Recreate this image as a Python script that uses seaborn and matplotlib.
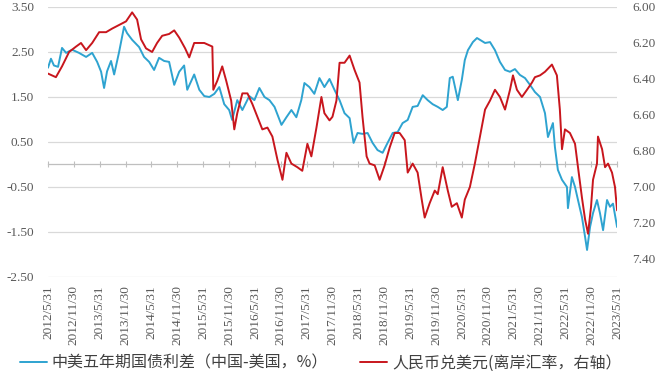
import numpy as np
import pandas as pd
import matplotlib.pyplot as plt
import seaborn as sns

sns.set_style('white')
plt.rcParams['font.family'] = ['Liberation Serif', 'Noto Sans CJK SC']

# China-US 5y government bond spread (%, left axis)
spread_dates = [
    '2012-05-31', '2012-06-21', '2012-07-12', '2012-08-10', '2012-09-07', '2012-10-06',
    '2012-11-17', '2013-01-05', '2013-02-24', '2013-04-08', '2013-05-13', '2013-06-10',
    '2013-07-01', '2013-07-22', '2013-08-19', '2013-09-10', '2013-10-15', '2013-11-19',
    '2013-12-10', '2014-01-15', '2014-03-05', '2014-04-09', '2014-05-15', '2014-06-19',
    '2014-07-24', '2014-08-29', '2014-10-03', '2014-11-08', '2014-12-13', '2015-01-17',
    '2015-02-08', '2015-03-29', '2015-05-04', '2015-06-08', '2015-07-14', '2015-08-18',
    '2015-09-22', '2015-10-27', '2015-12-01', '2015-12-22', '2016-01-27', '2016-03-03',
    '2016-04-21', '2016-05-27', '2016-07-01', '2016-08-06', '2016-09-10', '2016-10-16',
    '2016-12-04', '2017-01-08', '2017-02-12', '2017-03-19', '2017-04-23', '2017-05-15',
    '2017-06-19', '2017-07-24', '2017-08-29', '2017-10-03', '2017-11-08', '2017-12-13',
    '2018-01-18', '2018-02-22', '2018-03-30', '2018-04-27', '2018-05-25', '2018-06-29',
    '2018-08-04', '2018-09-08', '2018-10-13', '2018-11-18', '2018-12-23', '2019-01-28',
    '2019-03-04', '2019-04-08', '2019-05-14', '2019-06-18', '2019-07-23', '2019-08-28',
    '2019-10-02', '2019-11-06', '2019-12-12', '2020-01-16', '2020-02-14', '2020-03-06',
    '2020-03-27', '2020-05-02', '2020-05-30', '2020-06-20', '2020-07-12', '2020-08-16',
    '2020-09-14', '2020-10-05', '2020-11-10', '2020-12-15', '2021-01-19', '2021-02-23',
    '2021-03-31', '2021-05-05', '2021-06-09', '2021-07-14', '2021-08-19', '2021-09-23',
    '2021-10-28', '2021-12-03', '2022-01-07', '2022-01-28', '2022-03-04', '2022-03-18',
    '2022-04-08', '2022-05-07', '2022-06-11', '2022-06-18', '2022-07-16', '2022-08-07',
    '2022-08-28', '2022-09-25', '2022-10-17', '2022-10-31', '2022-11-21', '2022-12-12',
    '2023-01-09', '2023-01-30', '2023-02-21', '2023-03-21', '2023-04-11', '2023-05-02',
    '2023-05-31',
]
spread_vals = [
    2.15, 2.35, 2.20, 2.17, 2.59, 2.48,
    2.55, 2.48, 2.39, 2.48, 2.28, 2.06,
    1.70, 2.07, 2.30, 2.00, 2.50, 3.06,
    2.92, 2.77, 2.61, 2.39, 2.28, 2.10,
    2.37, 2.30, 2.28, 1.77, 2.06, 2.20,
    1.66, 2.00, 1.66, 1.52, 1.50, 1.57,
    1.72, 1.34, 1.21, 0.99, 1.43, 1.21,
    1.52, 1.43, 1.70, 1.50, 1.43, 1.28,
    0.88, 1.05, 1.21, 1.05, 1.43, 1.81,
    1.72, 1.57, 1.92, 1.72, 1.90, 1.66,
    1.43, 1.14, 1.03, 0.48, 0.70, 0.68,
    0.70, 0.48, 0.32, 0.26, 0.48, 0.70,
    0.72, 0.92, 0.99, 1.28, 1.30, 1.54,
    1.43, 1.34, 1.28, 1.21, 1.28, 1.92,
    1.95, 1.43, 1.88, 2.32, 2.54, 2.72,
    2.81, 2.77, 2.70, 2.72, 2.54, 2.28,
    2.10, 2.06, 2.12, 1.99, 1.92, 1.77,
    1.61, 1.50, 1.14, 0.61, 0.92, 0.39,
    -0.12, -0.34, -0.50, -0.97, -0.28, -0.50,
    -0.79, -1.17, -1.61, -1.90, -1.39, -1.08,
    -0.79, -1.08, -1.46, -0.79, -0.94, -0.87,
    -1.39,
]

# USD/CNH offshore rate (right axis, inverted)
rate_dates = [
    '2012-05-31', '2012-06-28', '2012-07-26', '2012-09-07', '2012-10-27', '2012-12-15',
    '2013-01-19', '2013-02-24', '2013-04-08', '2013-05-27', '2013-07-15', '2013-08-27',
    '2013-10-15', '2013-12-03', '2014-01-15', '2014-02-19', '2014-03-19', '2014-04-23',
    '2014-06-05', '2014-07-10', '2014-08-15', '2014-10-03', '2014-11-08', '2014-12-13',
    '2015-01-24', '2015-02-22', '2015-03-29', '2015-06-08', '2015-08-04', '2015-08-11',
    '2015-09-08', '2015-10-13', '2015-11-10', '2015-12-15', '2016-01-06', '2016-01-27',
    '2016-03-03', '2016-04-08', '2016-05-13', '2016-06-17', '2016-07-22', '2016-08-27',
    '2016-10-01', '2016-11-06', '2016-12-11', '2017-01-08', '2017-02-12', '2017-03-26',
    '2017-04-30', '2017-06-05', '2017-07-03', '2017-08-08', '2017-09-12', '2017-10-03',
    '2017-11-08', '2017-11-29', '2017-12-27', '2018-01-18', '2018-02-22', '2018-03-30',
    '2018-05-04', '2018-06-08', '2018-06-29', '2018-07-28', '2018-08-18', '2018-09-23',
    '2018-10-28', '2018-12-02', '2019-01-07', '2019-02-11', '2019-03-18', '2019-04-23',
    '2019-05-14', '2019-06-18', '2019-07-23', '2019-08-21', '2019-09-11', '2019-10-16',
    '2019-11-21', '2019-12-12', '2020-01-16', '2020-02-21', '2020-03-20', '2020-04-25',
    '2020-05-30', '2020-06-20', '2020-07-26', '2020-08-30', '2020-10-05', '2020-11-10',
    '2020-12-15', '2021-01-19', '2021-02-23', '2021-03-31', '2021-05-05', '2021-05-26',
    '2021-06-23', '2021-07-28', '2021-09-02', '2021-10-07', '2021-10-28', '2021-12-03',
    '2022-01-07', '2022-02-25', '2022-04-01', '2022-04-22', '2022-05-07', '2022-05-28',
    '2022-07-02', '2022-08-07', '2022-08-28', '2022-09-25', '2022-10-17', '2022-11-07',
    '2022-11-28', '2022-12-12', '2023-01-09', '2023-01-16', '2023-02-14', '2023-03-07',
    '2023-03-28', '2023-04-25', '2023-05-16', '2023-05-31',
]
rate_vals = [
    6.37, 6.38, 6.39, 6.33, 6.25, 6.22,
    6.20, 6.24, 6.20, 6.14, 6.14, 6.12,
    6.10, 6.08, 6.03, 6.07, 6.18, 6.23,
    6.25, 6.20, 6.16, 6.15, 6.13, 6.17,
    6.23, 6.28, 6.20, 6.20, 6.22, 6.46,
    6.41, 6.33, 6.41, 6.52, 6.68, 6.59,
    6.48, 6.48, 6.54, 6.61, 6.68, 6.67,
    6.72, 6.85, 6.96, 6.81, 6.87, 6.89,
    6.91, 6.76, 6.83, 6.67, 6.50, 6.59,
    6.63, 6.61, 6.52, 6.31, 6.31, 6.27,
    6.35, 6.42, 6.61, 6.83, 6.87, 6.88,
    6.96, 6.88, 6.78, 6.70, 6.70, 6.74,
    6.92, 6.87, 6.92, 7.07, 7.17, 7.09,
    7.02, 7.04, 6.89, 7.02, 7.11, 7.09,
    7.17, 7.07, 7.00, 6.87, 6.72, 6.57,
    6.52, 6.46, 6.50, 6.57, 6.46, 6.38,
    6.46, 6.50, 6.46, 6.42, 6.39, 6.38,
    6.36, 6.32, 6.38, 6.57, 6.79, 6.68,
    6.70, 6.76, 6.89, 7.06, 7.18, 7.26,
    7.11, 6.96, 6.87, 6.72, 6.79, 6.89,
    6.87, 6.92, 7.00, 7.13,
]

tick_labels = [
    '2012/5/31', '2012/11/30', '2013/5/31', '2013/11/30', '2014/5/31', '2014/11/30',
    '2015/5/31', '2015/11/30', '2016/5/31', '2016/11/30', '2017/5/31', '2017/11/30',
    '2018/5/31', '2018/11/30', '2019/5/31', '2019/11/30', '2020/5/31', '2020/11/30',
    '2021/5/31', '2021/11/30', '2022/5/31', '2022/11/30', '2023/5/31',
]
left_ticks = [-2.5, -1.5, -0.5, 0.5, 1.5, 2.5, 3.5]
right_ticks = [6.0, 6.2, 6.4, 6.6, 6.8, 7.0, 7.2, 7.4]

spread_name = '中美五年期国债利差（中国-美国，%）'
rate_name = '人民币兑美元(离岸汇率，右轴）'

spread_df = pd.DataFrame({'date': pd.to_datetime(spread_dates), 'value': spread_vals})
rate_df = pd.DataFrame({'date': pd.to_datetime(rate_dates), 'value': rate_vals})
ticks = pd.to_datetime(tick_labels, format='%Y/%m/%d')

blue = '#2ea3d0'
red = '#c8161d'
txt = '#595959'

fig = plt.figure(figsize=(6.6, 3.71), dpi=100)
ax = fig.add_axes([0.0727, 0.2534, 0.8623, 0.7278])

sns.lineplot(data=spread_df, x='date', y='value', color=blue, lw=1.4, ax=ax, label=spread_name)
ax2 = ax.twinx()
sns.lineplot(data=rate_df, x='date', y='value', color=red, lw=1.4, ax=ax2, label=rate_name)

ax.set_xlim(ticks[0], ticks[-1])
ax.set_ylim(-2.5, 3.5)
ax2.set_ylim(7.5, 6.0)
ax.set_yticks(left_ticks)
ax.set_yticklabels([f'{v:.2f}' for v in left_ticks])
ax2.set_yticks(right_ticks)
ax2.set_yticklabels([f'{v:.2f}' for v in right_ticks])
ax.set_xticks(ticks)
ax.set_xticklabels(tick_labels, rotation=90)

ax.grid(axis='y', color='#d9d9d9', lw=0.9)
ax.grid(axis='x', visible=False)
for a in (ax, ax2):
    for s in a.spines.values():
        s.set_visible(False)
    a.set_xlabel('')
    a.set_ylabel('')

ax.tick_params(axis='x', length=0, pad=6, labelsize=9.5, labelcolor=txt)
ax.tick_params(axis='y', length=0, pad=10, labelsize=9.5, labelcolor=txt)
ax2.tick_params(axis='y', length=0, pad=11, labelsize=9.5, labelcolor=txt)

# axis line through zero with tick marks
zero_pos = (0 - ax.get_ylim()[0]) / (ax.get_ylim()[1] - ax.get_ylim()[0])
sec = ax.secondary_xaxis(zero_pos)
sec.set_xticks(ticks)
sec.tick_params(direction='inout', length=5, color='#bfbfbf', labelbottom=False)
sec.spines['bottom'].set_color('#bfbfbf')
sec.spines['bottom'].set_linewidth(0.9)

for a in (ax, ax2):
    if a.get_legend() is not None:
        a.get_legend().remove()

h1, l1 = ax.get_legend_handles_labels()
h2, l2 = ax2.get_legend_handles_labels()
fig.legend(h1 + h2, l1 + l2, loc='center left', bbox_to_anchor=(0.03, 0.022), ncol=2,
           frameon=False, handlelength=1.7, handletextpad=0.3, columnspacing=2.0,
           prop={'family': ['Noto Sans CJK SC', 'DejaVu Sans'], 'size': 11.5},
           labelcolor='#404040', borderaxespad=0, borderpad=0)

fig.savefig('out.png', dpi=100)
